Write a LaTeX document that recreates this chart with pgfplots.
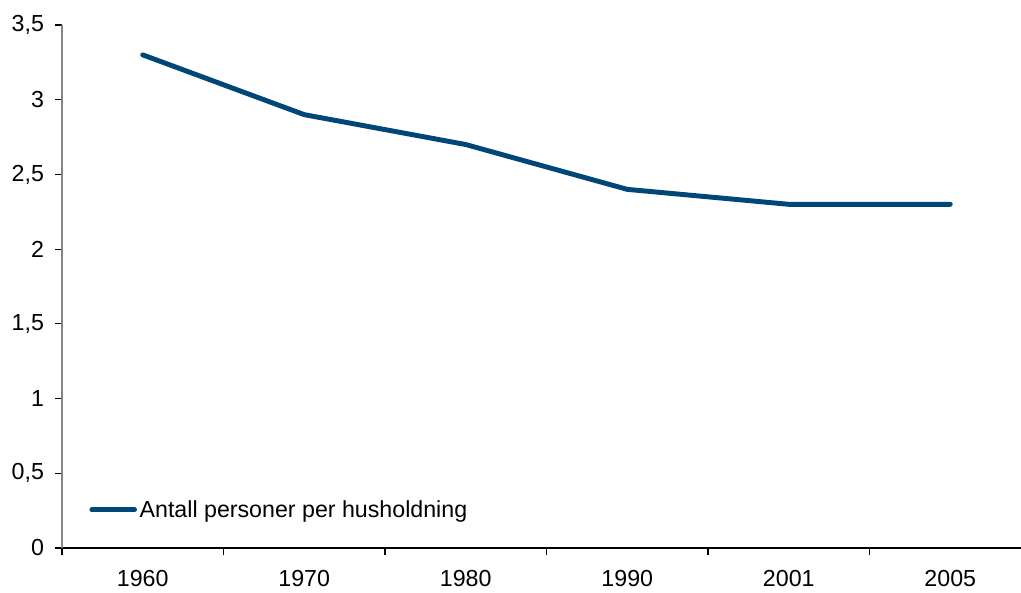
\documentclass[border=0pt]{standalone}
\usepackage{pgfplots}
\pgfplotsset{compat=1.18}
\usepackage{fontspec}
\setmainfont{Liberation Sans}
\usetikzlibrary{calc}
\definecolor{serie}{HTML}{004778}
\definecolor{yaks}{HTML}{868686}

\begin{document}
\begin{tikzpicture}
\begin{axis}[
    scale only axis,
    width=726.75pt, height=392.25pt,
    xmin=-0.5, xmax=5.5,
    ymin=0, ymax=3.5,
    axis x line*=bottom,
    axis y line*=left,
    x axis line style={black, line width=0.9pt, -},
    y axis line style={yaks, line width=1.2pt, -},
    xtick={0,...,5},
    xticklabels={1960,1970,1980,1990,2001,2005},
    minor xtick={-0.5,0.5,1.5,2.5,3.5,4.5},
    major x tick style={draw=none},
    minor x tick style={black, line width=0.8pt},
    minor tick length=5.5pt,
    ytick={0,0.5,1,1.5,2,2.5,3,3.5},
    yticklabels={0,{0,5},1,{1,5},2,{2,5},3,{3,5}},
    y tick style={black, line width=0.8pt},
    tick align=outside,
    major tick length=5pt,
    xticklabel style={yshift=-8.5pt},
    yticklabel style={xshift=-5pt},
    tick label style={font=\fontsize{17.4}{19}\selectfont},
    legend style={at={(0.028,0.073)}, anchor=west, draw=none, fill=none,
        font=\fontsize{17.4}{19}\selectfont, inner sep=0pt},
    legend cell align=left,
    legend image code/.code={\draw[#1, line cap=round] (0cm,0cm) -- (32pt,0cm);},
]
\addplot[serie, line width=3.7pt, line join=round, line cap=round] coordinates {
    (0, 3.3)
    (1, 2.9)
    (2, 2.7)
    (3, 2.4)
    (4, 2.3)
    (5, 2.3)
};
\legend{Antall personer per husholdning}
\end{axis}
\pgfresetboundingbox
\path ($(current axis.south west)+(-46.5pt,-33pt)$) rectangle ($(current axis.north east)+(-7.5pt,18.75pt)$);
\end{tikzpicture}
\end{document}
